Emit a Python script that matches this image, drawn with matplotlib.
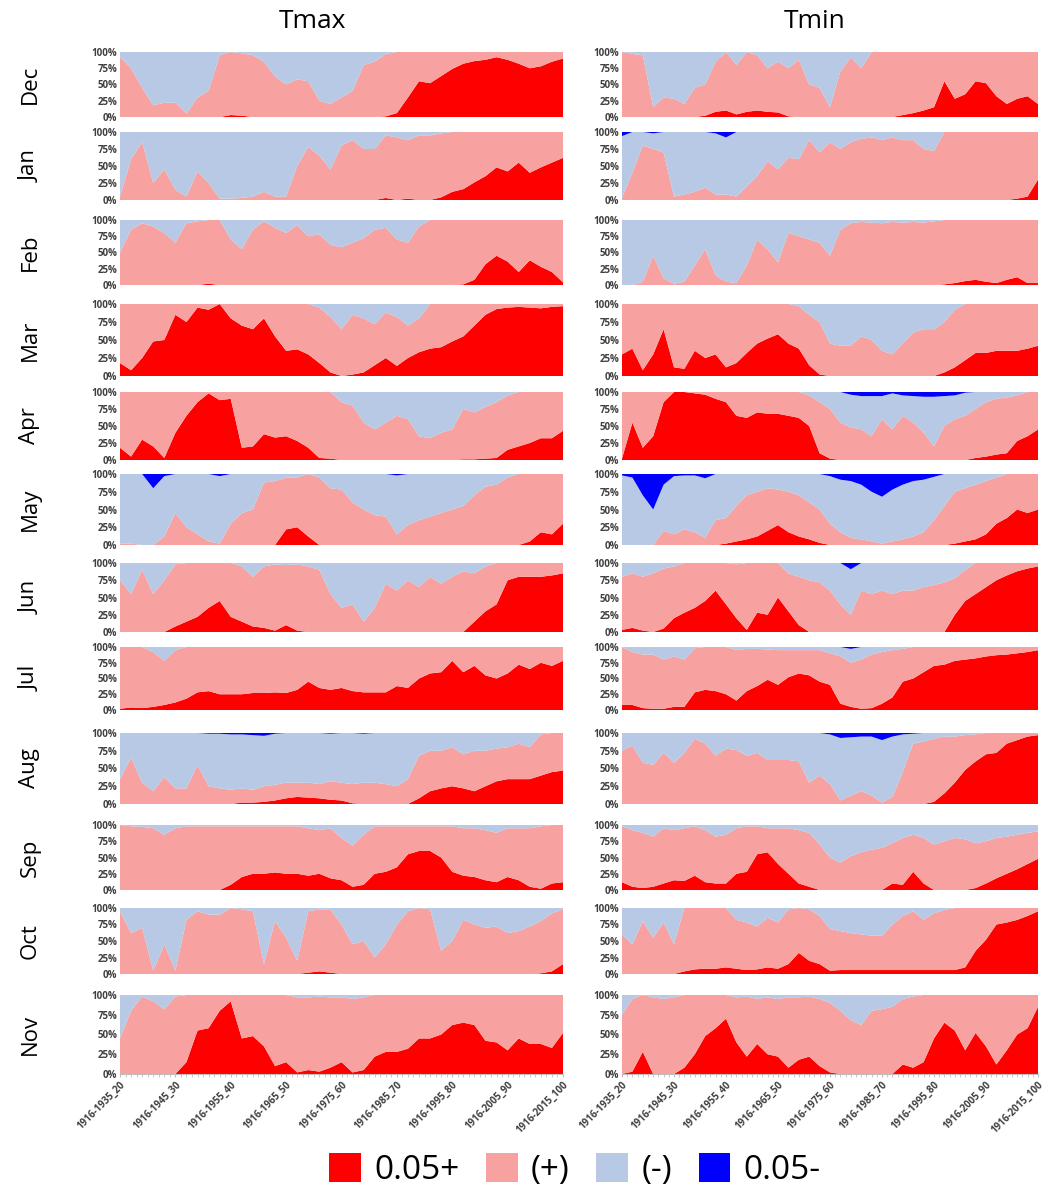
import numpy as np
import matplotlib
matplotlib.use("Agg")
import matplotlib.pyplot as plt
from matplotlib.patches import Patch

plt.rcParams['font.family'] = ['Open Sans', 'DejaVu Sans']

# window lengths (1916-XXXX_N), every other one
windows = [20, 22, 24, 26, 28, 30, 32, 34, 36, 38, 40, 42, 44, 46, 48, 50, 52, 54, 56, 58, 60,
           62, 64, 66, 68, 70, 72, 74, 76, 78, 80, 82, 84, 86, 88, 90, 92, 94, 96, 98, 100]
tick_pos = [20, 30, 40, 50, 60, 70, 80, 90, 100]
tick_labels = ["1916-1935_20", "1916-1945_30", "1916-1955_40", "1916-1965_50", "1916-1975_60",
               "1916-1985_70", "1916-1995_80", "1916-2005_90", "1916-2015_100"]
months = ["Dec", "Jan", "Feb", "Mar", "Apr", "May", "Jun", "Jul", "Aug", "Sep", "Oct", "Nov"]
series_names = ["0.05+", "(+)", "(-)", "0.05-"]

# percent of stations: sig = significant positive, pos = all positive, neg = significant negative
no_sig_neg = [0, 0, 0, 0, 0, 0, 0, 0, 0, 0, 0, 0, 0, 0, 0, 0, 0, 0, 0, 0, 0,
              0, 0, 0, 0, 0, 0, 0, 0, 0, 0, 0, 0, 0, 0, 0, 0, 0, 0, 0, 0]

# ---- Tmax ----
tmax_dec_sig = [0, 0, 0, 0, 0, 0, 0, 0, 0, 0, 3, 2, 0, 0, 0, 0, 0, 0, 0, 0, 0, 0, 0, 0, 1, 6, 30, 55, 52, 63, 74, 82, 86, 88, 92, 88, 82, 75, 78, 85, 90]
tmax_dec_pos = [92, 75, 45, 18, 22, 22, 5, 30, 40, 95, 100, 98, 95, 85, 62, 50, 58, 55, 25, 20, 30, 40, 80, 85, 97, 100, 100, 100, 100, 100, 100, 100, 100, 100, 100, 100, 100, 100, 100, 100, 100]
tmax_jan_sig = [0, 0, 0, 0, 0, 0, 0, 0, 0, 0, 0, 0, 0, 0, 0, 0, 0, 0, 0, 0, 0, 0, 0, 0, 3, 0, 2, 0, 0, 4, 12, 16, 26, 35, 48, 42, 55, 40, 48, 55, 62]
tmax_jan_pos = [5, 60, 85, 25, 45, 15, 5, 42, 25, 2, 2, 3, 5, 12, 5, 5, 50, 78, 65, 45, 80, 88, 75, 75, 95, 92, 88, 95, 95, 98, 100, 100, 100, 100, 100, 100, 100, 100, 100, 100, 100]
tmax_feb_sig = [0, 0, 0, 0, 0, 0, 0, 0, 2, 0, 0, 0, 0, 0, 0, 0, 0, 0, 0, 0, 0, 0, 0, 0, 0, 0, 0, 0, 0, 0, 0, 1, 8, 32, 45, 36, 20, 38, 28, 20, 4]
tmax_feb_pos = [50, 85, 95, 90, 80, 65, 95, 98, 100, 100, 70, 55, 85, 98, 88, 80, 92, 75, 78, 62, 58, 65, 72, 85, 88, 70, 65, 90, 100, 100, 100, 100, 100, 100, 100, 100, 100, 100, 100, 100, 100]
tmax_mar_sig = [18, 8, 25, 48, 50, 85, 75, 95, 92, 100, 80, 70, 65, 80, 55, 35, 37, 30, 18, 5, 0, 2, 5, 15, 25, 14, 25, 33, 38, 40, 48, 55, 70, 85, 93, 95, 96, 95, 94, 96, 97]
tmax_mar_pos = [100, 100, 100, 100, 100, 100, 100, 100, 100, 100, 100, 100, 100, 100, 100, 100, 100, 100, 95, 82, 65, 85, 80, 72, 88, 82, 70, 80, 100, 100, 100, 100, 100, 100, 100, 100, 100, 100, 100, 100, 100]
tmax_apr_sig = [18, 5, 30, 20, 3, 40, 65, 85, 98, 88, 90, 18, 20, 38, 33, 35, 28, 18, 3, 2, 0, 0, 0, 0, 0, 0, 0, 0, 0, 0, 0, 1, 1, 2, 3, 15, 20, 25, 32, 32, 43]
tmax_apr_pos = [100, 100, 100, 100, 100, 100, 100, 100, 100, 100, 100, 100, 100, 100, 100, 100, 100, 100, 100, 100, 85, 80, 55, 45, 55, 65, 60, 35, 32, 40, 45, 75, 70, 78, 85, 95, 100, 100, 100, 100, 100]
tmax_may_sig = [0, 0, 0, 0, 0, 0, 0, 0, 0, 0, 0, 0, 0, 0, 0, 22, 25, 12, 0, 0, 0, 0, 0, 0, 0, 0, 0, 0, 0, 0, 0, 0, 0, 0, 0, 0, 0, 5, 18, 15, 30]
tmax_may_pos = [2, 2, 0, 0, 12, 45, 25, 15, 5, 2, 30, 45, 50, 88, 90, 95, 95, 100, 95, 80, 78, 60, 50, 42, 40, 15, 28, 35, 40, 45, 50, 55, 70, 82, 85, 95, 100, 100, 100, 100, 100]
tmax_may_neg = [0, 0, 0, 20, 3, 0, 0, 0, 0, 3, 0, 0, 0, 0, 0, 0, 0, 0, 0, 0, 0, 0, 0, 0, 0, 2, 0, 0, 0, 0, 0, 0, 0, 0, 0, 0, 0, 0, 0, 0, 0]
tmax_jun_sig = [0, 0, 0, 0, 0, 8, 15, 22, 35, 45, 22, 15, 8, 6, 2, 10, 2, 0, 0, 0, 0, 0, 0, 0, 0, 0, 0, 0, 0, 0, 0, 0, 15, 30, 40, 75, 80, 80, 80, 82, 85]
tmax_jun_pos = [75, 55, 90, 55, 75, 98, 100, 100, 100, 100, 100, 95, 80, 95, 98, 97, 98, 95, 90, 55, 35, 40, 15, 35, 70, 60, 75, 65, 80, 70, 80, 88, 85, 95, 100, 100, 100, 100, 100, 100, 100]
tmax_jul_sig = [2, 4, 3, 5, 8, 12, 18, 28, 30, 25, 25, 25, 27, 27, 28, 27, 32, 45, 35, 32, 35, 30, 28, 28, 28, 38, 35, 50, 58, 60, 78, 60, 70, 55, 50, 58, 72, 65, 75, 70, 78]
tmax_jul_pos = [100, 100, 100, 92, 78, 95, 100, 100, 100, 100, 100, 100, 100, 100, 100, 100, 100, 100, 100, 100, 100, 100, 100, 100, 100, 100, 100, 100, 100, 100, 100, 100, 100, 100, 100, 100, 100, 100, 100, 100, 100]
tmax_aug_sig = [0, 0, 0, 0, 0, 0, 0, 0, 0, 0, 0, 2, 2, 3, 5, 8, 10, 9, 8, 6, 5, 1, 0, 0, 0, 0, 0, 8, 18, 22, 25, 22, 18, 25, 32, 35, 35, 35, 40, 45, 47]
tmax_aug_pos = [35, 65, 30, 18, 38, 22, 22, 55, 25, 22, 20, 22, 20, 25, 27, 30, 30, 30, 28, 32, 30, 28, 30, 30, 28, 25, 35, 68, 75, 75, 80, 70, 75, 75, 78, 80, 85, 80, 98, 100, 100]
tmax_aug_neg = [0, 0, 0, 0, 0, 0, 0, 0, 1, 1, 2, 2, 3, 4, 1, 0, 0, 0, 0, 1, 0, 0, 1, 0, 0, 0, 0, 0, 0, 0, 0, 0, 0, 0, 0, 0, 0, 0, 0, 0, 0]
tmax_sep_sig = [0, 0, 0, 0, 0, 0, 0, 0, 0, 0, 8, 20, 25, 25, 27, 25, 25, 22, 25, 18, 15, 5, 8, 25, 28, 35, 55, 60, 60, 50, 28, 22, 20, 15, 12, 20, 15, 5, 2, 10, 12]
tmax_sep_pos = [100, 98, 97, 95, 85, 95, 98, 98, 98, 98, 98, 98, 98, 98, 98, 98, 98, 95, 92, 95, 80, 68, 85, 98, 98, 98, 98, 98, 98, 98, 98, 95, 95, 92, 88, 95, 95, 95, 98, 100, 100]
tmax_oct_sig = [0, 0, 0, 0, 0, 0, 0, 0, 0, 0, 0, 0, 0, 0, 0, 0, 0, 2, 4, 2, 0, 0, 0, 0, 0, 0, 0, 0, 0, 0, 0, 0, 0, 0, 0, 0, 0, 0, 1, 4, 15]
tmax_oct_pos = [95, 62, 70, 5, 45, 5, 82, 95, 90, 90, 100, 98, 95, 15, 80, 55, 20, 95, 98, 98, 75, 45, 50, 25, 45, 75, 95, 100, 98, 35, 50, 82, 75, 70, 72, 62, 65, 72, 80, 92, 98]
tmax_nov_sig = [0, 0, 0, 0, 0, 0, 15, 55, 58, 80, 92, 45, 48, 35, 10, 15, 2, 5, 3, 8, 15, 2, 5, 22, 28, 28, 32, 45, 45, 50, 62, 65, 62, 42, 40, 30, 45, 38, 38, 33, 52]
tmax_nov_pos = [45, 80, 98, 92, 82, 98, 100, 100, 100, 100, 100, 100, 100, 100, 100, 100, 97, 97, 98, 97, 97, 95, 97, 100, 100, 100, 100, 100, 100, 100, 100, 100, 100, 100, 100, 100, 100, 100, 100, 100, 100]

# ---- Tmin ----
tmin_dec_sig = [0, 0, 0, 0, 0, 0, 0, 0, 2, 8, 10, 4, 8, 10, 8, 7, 1, 0, 0, 0, 0, 0, 0, 0, 0, 0, 0, 3, 6, 10, 15, 55, 28, 35, 55, 52, 32, 20, 28, 32, 20]
tmin_dec_pos = [100, 97, 95, 15, 30, 28, 20, 45, 50, 85, 100, 80, 100, 95, 75, 85, 75, 88, 50, 45, 15, 70, 92, 75, 100, 100, 100, 100, 100, 100, 100, 100, 100, 100, 100, 100, 100, 100, 100, 100, 100]
tmin_jan_sig = [0, 0, 0, 0, 0, 0, 0, 0, 0, 0, 0, 0, 0, 0, 0, 0, 0, 0, 0, 0, 0, 0, 0, 0, 0, 0, 0, 0, 0, 0, 0, 0, 0, 0, 0, 0, 0, 0, 2, 5, 30]
tmin_jan_pos = [3, 40, 80, 75, 70, 5, 8, 12, 18, 8, 8, 5, 20, 35, 57, 45, 62, 60, 88, 70, 85, 75, 85, 90, 92, 88, 92, 88, 88, 75, 72, 100, 100, 100, 100, 100, 100, 100, 100, 100, 100]
tmin_jan_neg = [6, 0, 0, 2, 0, 0, 0, 0, 0, 2, 8, 0, 0, 0, 0, 0, 0, 0, 0, 0, 0, 0, 0, 0, 0, 0, 0, 0, 0, 0, 0, 0, 0, 0, 0, 0, 0, 0, 0, 0, 0]
tmin_feb_sig = [0, 0, 0, 0, 0, 0, 0, 0, 0, 0, 0, 0, 0, 0, 0, 0, 0, 0, 0, 0, 0, 0, 0, 0, 0, 0, 0, 0, 0, 0, 0, 1, 3, 6, 8, 5, 3, 8, 12, 3, 3]
tmin_feb_pos = [0, 0, 5, 45, 10, 2, 5, 30, 55, 15, 5, 3, 30, 70, 55, 35, 80, 75, 70, 65, 45, 85, 95, 97, 96, 95, 97, 96, 97, 96, 98, 100, 100, 100, 100, 100, 100, 100, 100, 100, 100]
tmin_mar_sig = [30, 38, 8, 30, 65, 12, 10, 35, 25, 30, 12, 18, 32, 45, 52, 58, 45, 38, 15, 2, 0, 0, 0, 0, 0, 0, 0, 0, 0, 0, 0, 5, 12, 22, 32, 32, 35, 35, 35, 38, 42]
tmin_mar_pos = [100, 100, 100, 100, 100, 100, 100, 100, 100, 100, 100, 100, 100, 100, 100, 100, 100, 97, 85, 75, 45, 42, 42, 55, 50, 35, 30, 45, 60, 65, 65, 75, 92, 100, 100, 100, 100, 100, 100, 100, 100]
tmin_apr_sig = [2, 55, 18, 35, 85, 100, 100, 98, 96, 90, 85, 65, 62, 70, 68, 68, 65, 62, 50, 10, 2, 0, 0, 0, 0, 0, 0, 0, 0, 0, 0, 0, 0, 0, 3, 5, 8, 10, 28, 35, 45]
tmin_apr_pos = [100, 100, 100, 100, 100, 100, 100, 100, 100, 100, 100, 100, 100, 100, 100, 100, 100, 100, 95, 85, 75, 55, 48, 45, 35, 60, 45, 65, 55, 40, 20, 50, 60, 65, 75, 85, 90, 92, 95, 100, 100]
tmin_apr_neg = [0, 0, 0, 0, 0, 0, 0, 0, 0, 0, 0, 0, 0, 0, 0, 0, 0, 0, 0, 0, 0, 0, 4, 6, 6, 6, 2, 5, 6, 7, 7, 6, 5, 1, 0, 0, 0, 0, 0, 0, 0]
tmin_may_sig = [0, 0, 0, 0, 0, 0, 0, 0, 0, 0, 2, 5, 8, 12, 20, 28, 18, 12, 8, 3, 0, 0, 0, 0, 0, 0, 0, 0, 0, 0, 0, 0, 2, 5, 8, 15, 30, 38, 50, 45, 50]
tmin_may_pos = [0, 0, 0, 0, 20, 15, 22, 18, 10, 35, 38, 55, 70, 75, 80, 78, 75, 70, 60, 50, 30, 18, 10, 8, 5, 2, 5, 8, 12, 18, 35, 55, 75, 80, 85, 90, 95, 100, 100, 100, 100]
tmin_may_neg = [2, 5, 30, 50, 15, 3, 2, 2, 6, 0, 0, 0, 0, 0, 0, 0, 0, 0, 0, 0, 3, 8, 10, 15, 25, 32, 22, 15, 10, 8, 4, 0, 0, 0, 0, 0, 0, 0, 0, 0, 0]
tmin_jun_sig = [3, 6, 2, 0, 5, 20, 28, 35, 45, 60, 40, 20, 3, 28, 25, 50, 30, 10, 0, 0, 0, 0, 0, 0, 0, 0, 0, 0, 0, 0, 0, 0, 25, 45, 55, 65, 75, 82, 88, 92, 95]
tmin_jun_pos = [80, 85, 80, 85, 92, 95, 100, 100, 100, 100, 100, 98, 100, 100, 100, 100, 85, 80, 75, 72, 60, 40, 25, 60, 55, 60, 55, 60, 60, 65, 68, 72, 78, 90, 100, 100, 100, 100, 100, 100, 100]
tmin_jun_neg = [0, 0, 0, 0, 0, 0, 0, 0, 0, 0, 0, 0, 0, 0, 0, 0, 0, 0, 0, 0, 0, 0, 9, 0, 0, 0, 0, 0, 0, 0, 0, 0, 0, 0, 0, 0, 0, 0, 0, 0, 0]
tmin_jul_sig = [8, 8, 3, 2, 2, 5, 5, 28, 32, 30, 25, 15, 30, 38, 48, 40, 52, 58, 55, 45, 40, 10, 5, 2, 3, 10, 20, 45, 50, 60, 70, 72, 78, 80, 82, 85, 87, 88, 90, 92, 95]
tmin_jul_pos = [100, 92, 88, 88, 80, 85, 80, 98, 100, 100, 100, 95, 97, 97, 96, 95, 95, 95, 95, 95, 90, 85, 75, 80, 88, 92, 95, 97, 100, 100, 100, 100, 100, 100, 100, 100, 100, 100, 100, 100, 100]
tmin_jul_neg = [0, 0, 0, 0, 0, 0, 0, 0, 0, 0, 0, 0, 0, 0, 0, 0, 0, 0, 0, 0, 0, 0, 3, 0, 0, 0, 0, 0, 0, 0, 0, 0, 0, 0, 0, 0, 0, 0, 0, 0, 0]
tmin_aug_sig = [0, 0, 0, 0, 0, 0, 0, 0, 0, 0, 0, 0, 0, 0, 0, 0, 0, 0, 0, 0, 0, 0, 0, 0, 0, 0, 0, 0, 0, 0, 3, 15, 30, 48, 60, 70, 72, 85, 90, 95, 97]
tmin_aug_pos = [75, 82, 58, 55, 72, 58, 72, 92, 85, 68, 78, 76, 68, 72, 62, 62, 62, 60, 30, 40, 28, 5, 12, 18, 12, 2, 10, 45, 85, 88, 92, 95, 95, 97, 98, 100, 100, 100, 100, 100, 100]
tmin_aug_neg = [0, 0, 0, 0, 0, 0, 0, 0, 0, 0, 0, 0, 0, 0, 0, 0, 0, 0, 0, 0, 2, 7, 6, 5, 5, 10, 5, 2, 1, 0, 0, 0, 0, 0, 0, 0, 0, 0, 0, 0, 0]
tmin_sep_sig = [12, 5, 3, 5, 10, 15, 14, 22, 12, 10, 10, 25, 28, 55, 58, 40, 25, 10, 5, 0, 0, 0, 0, 0, 0, 0, 10, 8, 28, 10, 0, 0, 0, 0, 3, 10, 18, 25, 32, 40, 48]
tmin_sep_pos = [98, 92, 88, 82, 95, 92, 95, 98, 92, 82, 85, 95, 98, 98, 95, 95, 95, 92, 88, 70, 50, 42, 52, 58, 62, 65, 72, 80, 85, 80, 70, 75, 80, 78, 72, 75, 80, 82, 85, 88, 90]
tmin_oct_sig = [0, 0, 0, 0, 0, 0, 4, 7, 8, 8, 10, 8, 6, 7, 10, 8, 15, 32, 20, 15, 5, 6, 6, 6, 6, 6, 6, 6, 6, 6, 6, 6, 6, 10, 35, 52, 75, 78, 82, 88, 95]
tmin_oct_pos = [60, 45, 80, 55, 78, 45, 100, 100, 100, 100, 100, 82, 78, 72, 85, 78, 98, 100, 98, 88, 68, 65, 62, 60, 58, 58, 75, 88, 95, 82, 92, 97, 100, 100, 100, 100, 100, 100, 100, 100, 100]
tmin_nov_sig = [0, 3, 28, 0, 0, 0, 8, 25, 48, 58, 70, 40, 22, 38, 25, 22, 8, 18, 22, 10, 2, 0, 0, 0, 0, 0, 0, 12, 8, 15, 45, 65, 55, 30, 52, 35, 12, 30, 50, 58, 85]
tmin_nov_pos = [75, 95, 100, 97, 95, 97, 100, 100, 100, 100, 100, 97, 98, 95, 97, 95, 97, 97, 98, 95, 90, 80, 68, 62, 80, 82, 85, 95, 98, 100, 100, 100, 100, 100, 100, 100, 100, 100, 100, 100, 100]

tmax = {
    "Dec": (tmax_dec_sig, tmax_dec_pos, no_sig_neg), "Jan": (tmax_jan_sig, tmax_jan_pos, no_sig_neg),
    "Feb": (tmax_feb_sig, tmax_feb_pos, no_sig_neg), "Mar": (tmax_mar_sig, tmax_mar_pos, no_sig_neg),
    "Apr": (tmax_apr_sig, tmax_apr_pos, no_sig_neg), "May": (tmax_may_sig, tmax_may_pos, tmax_may_neg),
    "Jun": (tmax_jun_sig, tmax_jun_pos, no_sig_neg), "Jul": (tmax_jul_sig, tmax_jul_pos, no_sig_neg),
    "Aug": (tmax_aug_sig, tmax_aug_pos, tmax_aug_neg), "Sep": (tmax_sep_sig, tmax_sep_pos, no_sig_neg),
    "Oct": (tmax_oct_sig, tmax_oct_pos, no_sig_neg), "Nov": (tmax_nov_sig, tmax_nov_pos, no_sig_neg),
}
tmin = {
    "Dec": (tmin_dec_sig, tmin_dec_pos, no_sig_neg), "Jan": (tmin_jan_sig, tmin_jan_pos, tmin_jan_neg),
    "Feb": (tmin_feb_sig, tmin_feb_pos, no_sig_neg), "Mar": (tmin_mar_sig, tmin_mar_pos, no_sig_neg),
    "Apr": (tmin_apr_sig, tmin_apr_pos, tmin_apr_neg), "May": (tmin_may_sig, tmin_may_pos, tmin_may_neg),
    "Jun": (tmin_jun_sig, tmin_jun_pos, tmin_jun_neg), "Jul": (tmin_jul_sig, tmin_jul_pos, tmin_jul_neg),
    "Aug": (tmin_aug_sig, tmin_aug_pos, tmin_aug_neg), "Sep": (tmin_sep_sig, tmin_sep_pos, no_sig_neg),
    "Oct": (tmin_oct_sig, tmin_oct_pos, no_sig_neg), "Nov": (tmin_nov_sig, tmin_nov_pos, no_sig_neg),
}

colors = ["#ff0000", "#f7a1a1", "#b7c9e4", "#0000ff"]

W, H = 1049, 1194
fig = plt.figure(figsize=(W / 100, H / 100), dpi=100)

# panel rows in pixels (top, bottom)
rows_px = [(52, 117), (132, 200), (220, 285), (304, 376), (392, 460), (474, 545),
           (563, 632), (647, 710), (733, 804), (825, 890), (908, 974), (995, 1074)]
cols_px = [(120, 563), (622, 1038)]


def draw_panel(ax, sig, pos, neg, last):
    sig = np.array(sig, float)
    pos = np.array(pos, float)
    neg = np.array(neg, float)
    s1 = sig
    s2 = np.maximum(pos - sig, 0)
    s4 = neg
    s3 = np.maximum(100 - pos - neg, 0)
    ax.stackplot(windows, s1, s2, s3, s4, colors=colors, linewidth=0)
    ax.set_xlim(20, 100)
    ax.set_ylim(0, 100)
    ax.set_yticks([0, 25, 50, 75, 100])
    ax.set_yticklabels(["0%", "25%", "50%", "75%", "100%"], fontsize=7,
                       fontweight="bold", color="#404040")
    ax.tick_params(axis="y", length=0, pad=2)
    for s in ax.spines.values():
        s.set_visible(False)
    if last:
        ax.set_xticks(tick_pos)
        ax.set_xticklabels(tick_labels, rotation=45, ha="right", rotation_mode="anchor",
                           fontsize=7, fontweight="bold", color="#404040")
        ax.set_xticks(range(20, 101), minor=True)
        ax.tick_params(axis="x", which="both", length=2, color="#bfbfbf", pad=2)
        ax.spines["bottom"].set_visible(True)
        ax.spines["bottom"].set_color("#bfbfbf")
    else:
        ax.set_xticks([])


for ci, data in enumerate([tmax, tmin]):
    x0, x1 = cols_px[ci]
    for ri, m in enumerate(months):
        t, b = rows_px[ri]
        ax = fig.add_axes([x0 / W, 1 - b / H, (x1 - x0) / W, (b - t) / H])
        sig, pos, neg = data[m]
        draw_panel(ax, sig, pos, neg, ri == len(months) - 1)

for ri, m in enumerate(months):
    t, b = rows_px[ri]
    fig.text(30 / W, 1 - (t + b) / 2 / H, m, rotation=90, ha="center", va="center", fontsize=16)

fig.text(312 / W, 1 - 22 / H, "Tmax", ha="center", va="center", fontsize=19)
fig.text(815 / W, 1 - 22 / H, "Tmin", ha="center", va="center", fontsize=19)

handles = [Patch(facecolor=c, edgecolor="none") for c in colors]
fig.legend(handles, series_names, loc="center", bbox_to_anchor=(575 / W, 1 - 1170 / H), ncol=4,
           frameon=False, fontsize=24, handlelength=0.95, handleheight=0.95,
           columnspacing=0.8, handletextpad=0.4)

fig.savefig("out.png", dpi=100)
